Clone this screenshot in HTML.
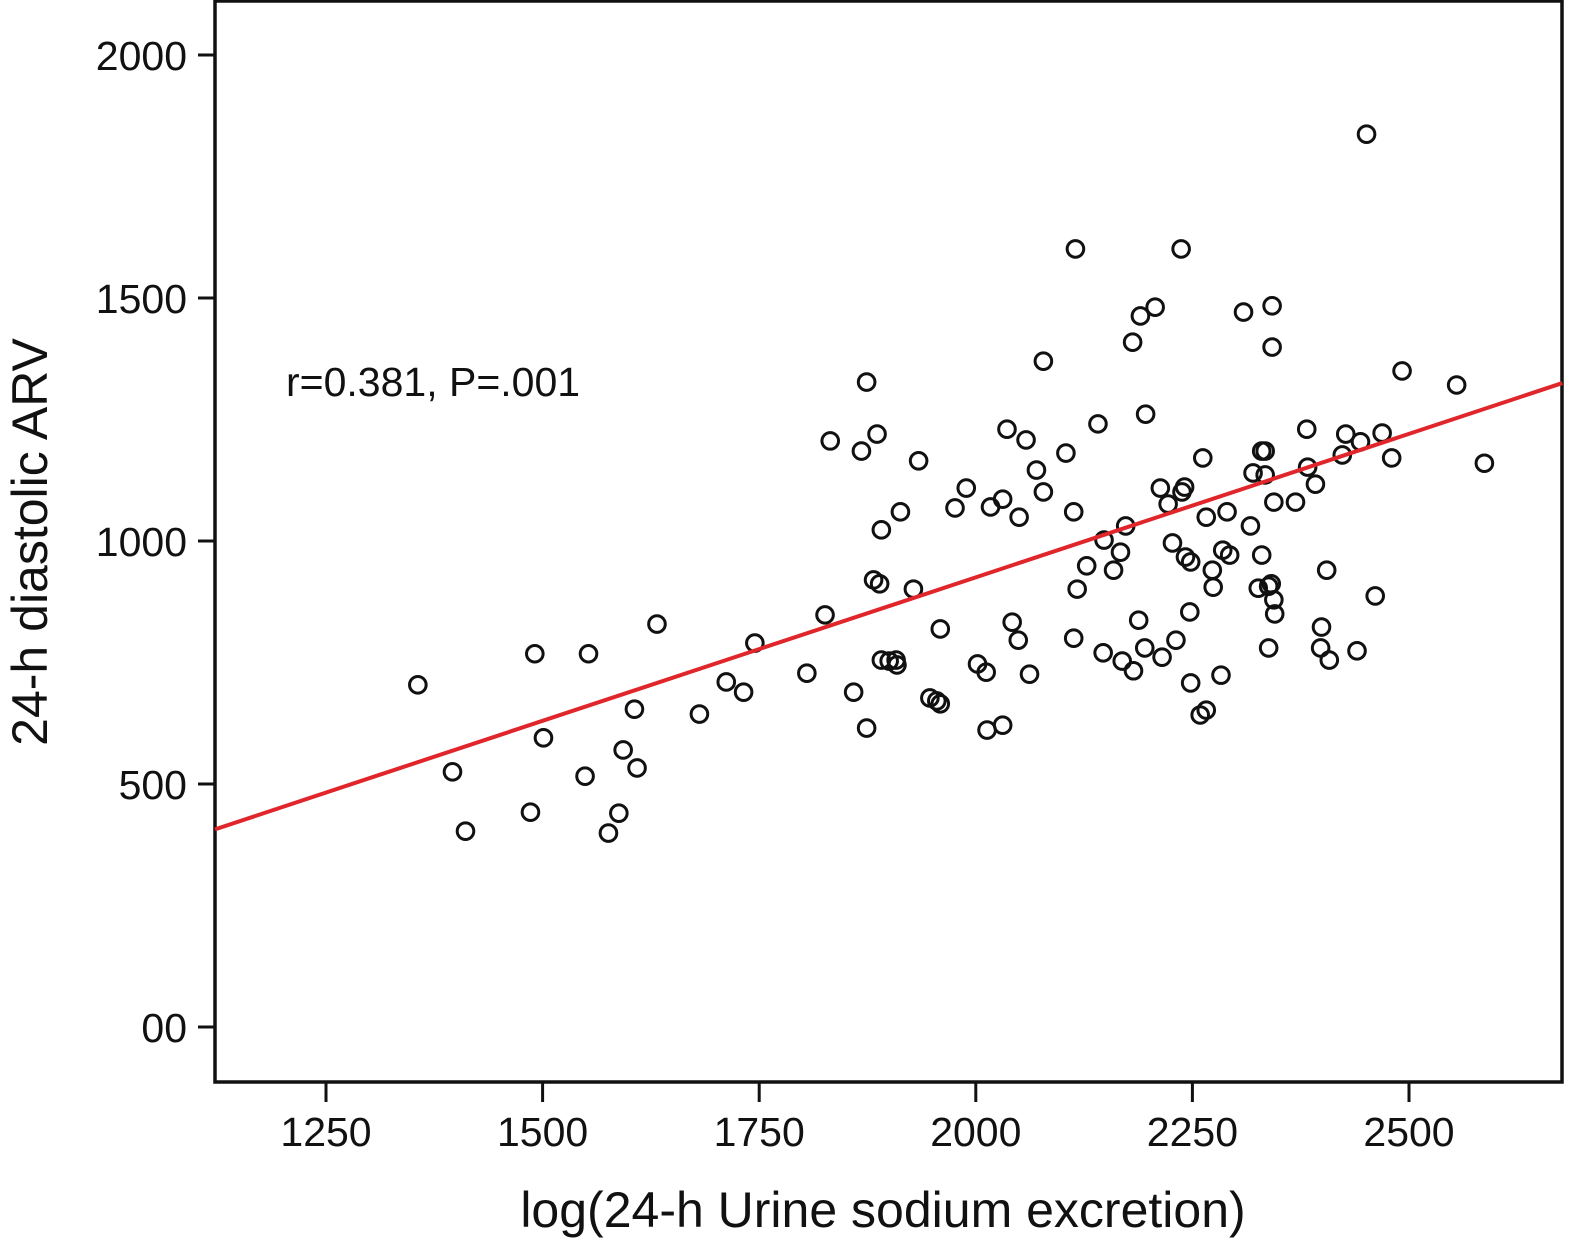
<!DOCTYPE html>
<html><head><meta charset="utf-8"><style>
html,body{margin:0;padding:0;background:#fff;}
svg{display:block;font-family:"Liberation Sans",Arial,sans-serif;}
</style></head><body>
<svg id="chart" width="1575" height="1242" viewBox="0 0 1575 1242">
<rect x="215" y="1" width="1347" height="1081" fill="none" stroke="#111" stroke-width="3.5"/>
<g id="yaxis"></g>
<g id="xaxis"></g>
<g id="points"></g>
<g id="fit"></g>
<text x="286" y="396" font-size="41" fill="#111">r=0.381, P=.001</text>
<text x="883" y="1227" font-size="50" text-anchor="middle" fill="#111">log(24-h Urine sodium excretion)</text>
<text transform="translate(47,542) rotate(-90)" font-size="50" text-anchor="middle" fill="#111">24-h diastolic ARV</text>
</svg>
<script>
const xTicks=[1250,1500,1750,2000,2250,2500];
const yTicks=[0,500,1000,1500,2000];
const yTickLabels=["00","500","1000","1500","2000"];
const xVals=[1356,1396,1411,1486,1491,1501,1549,1553,1576,1588,1593,1606,1609,1632,1681,1712,1732,1745,1805,1826,1832,1859,1868,1874,1874,1886,1882,1889,1891,1891,1900,1908,1909,1913,1928,1934,1947,1955,1959,1959,1976,1989,2002,2012,2013,2017,2031,2031,2036,2042,2049,2050,2058,2062,2070,2078,2078,2104,2113,2113,2117,2115,2128,2141,2147,2148,2159,2167,2169,2173,2181,2182,2190,2188,2196,2195,2207,2213,2215,2222,2227,2231,2238,2241,2237,2242,2247,2248,2248,2262,2259,2266,2266,2273,2274,2283,2285,2290,2293,2309,2317,2320,2326,2330,2330,2334,2334,2338,2338,2341,2342,2342,2344,2344,2345,2369,2382,2383,2392,2398,2399,2405,2408,2423,2427,2440,2444,2451,2461,2469,2480,2492,2555,2587];
const yVals=[704,525,403,442,768,595,516,768,399,440,570,654,533,829,644,710,689,790,728,848,1206,689,1185,1327,615,1220,920,912,1023,755,753,755,745,1060,901,1165,677,671,665,819,1068,1109,747,730,611,1070,1086,621,1230,833,796,1049,1208,726,1146,1101,1370,1181,1060,800,901,1601,949,1241,770,1002,940,977,753,1031,1409,733,1463,837,1261,780,1481,1109,761,1076,996,796,1101,1111,1601,967,854,957,708,1171,642,1049,652,940,905,724,981,1060,971,1471,1031,1140,903,1185,971,1185,1136,780,907,912,1484,1399,1080,879,850,1080,1230,1152,1117,780,823,940,755,1177,1220,774,1204,1837,887,1222,1171,1350,1321,1160];
const fitX=[1119,2677];
const fitY=[405,1325];

const NS="http://www.w3.org/2000/svg";
function sx(v){return 326+(v-1250)*0.8664;}
function sy(v){return 1027-v*0.486;}
const ya=document.getElementById('yaxis'),xa=document.getElementById('xaxis'),pg=document.getElementById('points'),fg=document.getElementById('fit');
yTicks.forEach((t,i)=>{
  const l=document.createElementNS(NS,'line');
  l.setAttribute('x1',198);l.setAttribute('x2',215);l.setAttribute('y1',sy(t));l.setAttribute('y2',sy(t));
  l.setAttribute('stroke','#111');l.setAttribute('stroke-width','3');
  
  
  ya.appendChild(l);
  const tx=document.createElementNS(NS,'text');
  tx.setAttribute('x',187);tx.setAttribute('y',sy(t)+15);tx.setAttribute('text-anchor','end');
  tx.setAttribute('font-size','41');tx.setAttribute('fill','#111');tx.textContent=yTickLabels[i];
  
  
  ya.appendChild(tx);
});
xTicks.forEach(t=>{
  const l=document.createElementNS(NS,'line');
  l.setAttribute('x1',sx(t));l.setAttribute('x2',sx(t));l.setAttribute('y1',1082);l.setAttribute('y2',1102);
  l.setAttribute('stroke','#111');l.setAttribute('stroke-width','3');
  
  
  xa.appendChild(l);
  const tx=document.createElementNS(NS,'text');
  tx.setAttribute('x',sx(t));tx.setAttribute('y',1146);tx.setAttribute('text-anchor','middle');
  tx.setAttribute('font-size','41');tx.setAttribute('fill','#111');tx.textContent=t;
  
  
  xa.appendChild(tx);
});
xVals.forEach((v,i)=>{
  const c=document.createElementNS(NS,'circle');
  c.setAttribute('cx',sx(v));c.setAttribute('cy',sy(yVals[i]));c.setAttribute('r',8.3);
  c.setAttribute('fill','none');c.setAttribute('stroke','#111');c.setAttribute('stroke-width','3');
  
  
  pg.appendChild(c);
});
const fl=document.createElementNS(NS,'line');
fl.setAttribute('x1',Math.max(sx(fitX[0]),215));
fl.setAttribute('y1',sy(fitY[0]+(fitY[1]-fitY[0])*((Math.max(sx(fitX[0]),215)-sx(fitX[0]))/(sx(fitX[1])-sx(fitX[0])))));
fl.setAttribute('x2',sx(fitX[1]));fl.setAttribute('y2',sy(fitY[1]));
fl.setAttribute('stroke','#e0262b');fl.setAttribute('stroke-width','4');


fg.appendChild(fl);
</script>
</body></html>
